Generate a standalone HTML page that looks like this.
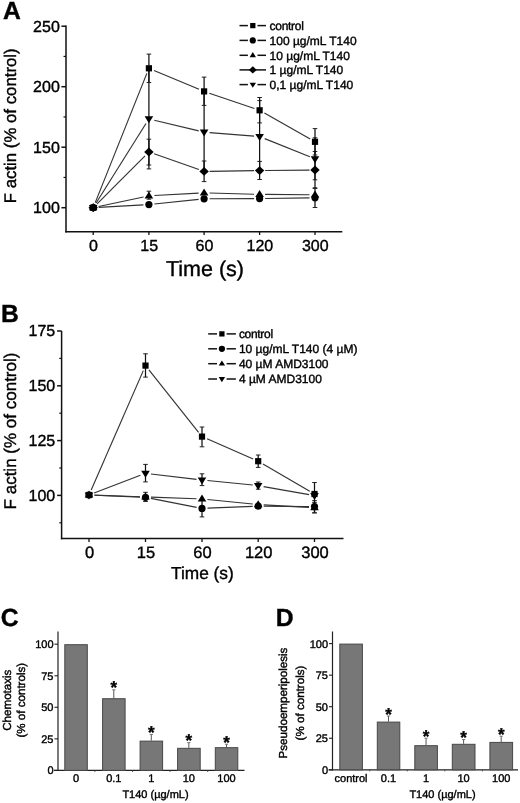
<!DOCTYPE html>
<html><head><meta charset="utf-8"><title>Figure</title>
<style>html,body{margin:0;padding:0;background:#fff;}svg{display:block;will-change:transform;}text{text-rendering:geometricPrecision;}</style></head>
<body>
<svg width="520" height="803" viewBox="0 0 520 803" font-family="Liberation Sans, sans-serif" fill="#000">
<style>text{stroke:#000;stroke-width:0.38px;}</style>
<rect width="520" height="803" fill="#fff"/>
<text x="2.9" y="18.8" font-size="24.7" text-anchor="start" font-weight="bold" >A</text>
<line x1="66.00" y1="25.50" x2="66.00" y2="232.50" stroke="#111" stroke-width="1.5" />
<line x1="65.30" y1="231.80" x2="342.30" y2="231.80" stroke="#111" stroke-width="1.5" />
<line x1="61.40" y1="207.70" x2="66.00" y2="207.70" stroke="#111" stroke-width="1.5" />
<text x="59.8" y="213.0" font-size="16" text-anchor="end" font-weight="normal" >100</text>
<line x1="61.40" y1="147.20" x2="66.00" y2="147.20" stroke="#111" stroke-width="1.5" />
<text x="59.8" y="152.5" font-size="16" text-anchor="end" font-weight="normal" >150</text>
<line x1="61.40" y1="86.70" x2="66.00" y2="86.70" stroke="#111" stroke-width="1.5" />
<text x="59.8" y="91.99999999999999" font-size="16" text-anchor="end" font-weight="normal" >200</text>
<line x1="61.40" y1="26.20" x2="66.00" y2="26.20" stroke="#111" stroke-width="1.5" />
<text x="59.8" y="31.49999999999999" font-size="16" text-anchor="end" font-weight="normal" >250</text>
<line x1="63.50" y1="177.45" x2="66.00" y2="177.45" stroke="#111" stroke-width="1.2" />
<line x1="63.50" y1="116.95" x2="66.00" y2="116.95" stroke="#111" stroke-width="1.2" />
<line x1="63.50" y1="56.45" x2="66.00" y2="56.45" stroke="#111" stroke-width="1.2" />
<line x1="93.20" y1="231.80" x2="93.20" y2="235.00" stroke="#111" stroke-width="1.3" />
<text x="93.5" y="250.8" font-size="16" text-anchor="middle" font-weight="normal" >0</text>
<line x1="148.90" y1="231.80" x2="148.90" y2="235.00" stroke="#111" stroke-width="1.3" />
<text x="149.20000000000002" y="250.8" font-size="16" text-anchor="middle" font-weight="normal" >15</text>
<line x1="204.10" y1="231.80" x2="204.10" y2="235.00" stroke="#111" stroke-width="1.3" />
<text x="204.4" y="250.8" font-size="16" text-anchor="middle" font-weight="normal" >60</text>
<line x1="259.60" y1="231.80" x2="259.60" y2="235.00" stroke="#111" stroke-width="1.3" />
<text x="259.90000000000003" y="250.8" font-size="16" text-anchor="middle" font-weight="normal" >120</text>
<line x1="315.00" y1="231.80" x2="315.00" y2="235.00" stroke="#111" stroke-width="1.3" />
<text x="315.3" y="250.8" font-size="16" text-anchor="middle" font-weight="normal" >300</text>
<text x="205" y="276" font-size="21.5" text-anchor="middle" font-weight="normal" >Time (s)</text>
<text x="16.3" y="125.8" font-size="16.8" text-anchor="middle" font-weight="normal" transform="rotate(-90 16.3 125.8)" >F actin (% of control)</text>
<line x1="98.69" y1="207.39" x2="143.41" y2="204.91" stroke="#333" stroke-width="1.15" />
<line x1="154.37" y1="204.03" x2="198.63" y2="199.37" stroke="#333" stroke-width="1.15" />
<line x1="209.60" y1="198.78" x2="254.10" y2="198.62" stroke="#333" stroke-width="1.15" />
<line x1="265.10" y1="198.52" x2="309.50" y2="197.88" stroke="#333" stroke-width="1.15" />
<line x1="98.58" y1="206.55" x2="143.52" y2="196.95" stroke="#333" stroke-width="1.15" />
<line x1="154.39" y1="195.50" x2="198.61" y2="193.10" stroke="#333" stroke-width="1.15" />
<line x1="209.60" y1="192.96" x2="254.10" y2="194.24" stroke="#333" stroke-width="1.15" />
<line x1="265.10" y1="194.44" x2="309.50" y2="194.76" stroke="#333" stroke-width="1.15" />
<line x1="97.09" y1="203.81" x2="145.01" y2="155.89" stroke="#333" stroke-width="1.15" />
<line x1="154.09" y1="153.82" x2="198.91" y2="169.58" stroke="#333" stroke-width="1.15" />
<line x1="209.60" y1="171.32" x2="254.10" y2="170.68" stroke="#333" stroke-width="1.15" />
<line x1="265.10" y1="170.54" x2="309.50" y2="170.06" stroke="#333" stroke-width="1.15" />
<line x1="96.12" y1="203.04" x2="145.98" y2="123.56" stroke="#333" stroke-width="1.15" />
<line x1="154.25" y1="120.19" x2="198.75" y2="130.91" stroke="#333" stroke-width="1.15" />
<line x1="209.58" y1="132.63" x2="254.12" y2="136.17" stroke="#333" stroke-width="1.15" />
<line x1="264.71" y1="138.65" x2="309.89" y2="156.75" stroke="#333" stroke-width="1.15" />
<line x1="95.24" y1="202.59" x2="146.86" y2="73.41" stroke="#333" stroke-width="1.15" />
<line x1="153.97" y1="70.42" x2="199.03" y2="89.28" stroke="#333" stroke-width="1.15" />
<line x1="209.31" y1="93.17" x2="254.39" y2="108.53" stroke="#333" stroke-width="1.15" />
<line x1="264.38" y1="113.02" x2="310.22" y2="139.08" stroke="#333" stroke-width="1.15" />
<line x1="315.00" y1="187.80" x2="315.00" y2="207.50" stroke="#111" stroke-width="1.25" />
<line x1="312.70" y1="187.80" x2="317.30" y2="187.80" stroke="#222" stroke-width="1" />
<line x1="312.70" y1="207.50" x2="317.30" y2="207.50" stroke="#222" stroke-width="1" />
<line x1="148.90" y1="191.20" x2="148.90" y2="199.20" stroke="#111" stroke-width="1.25" />
<line x1="146.60" y1="191.20" x2="151.20" y2="191.20" stroke="#222" stroke-width="1" />
<line x1="146.60" y1="199.20" x2="151.20" y2="199.20" stroke="#222" stroke-width="1" />
<line x1="148.90" y1="139.20" x2="148.90" y2="165.00" stroke="#111" stroke-width="1.25" />
<line x1="146.60" y1="139.20" x2="151.20" y2="139.20" stroke="#222" stroke-width="1" />
<line x1="146.60" y1="165.00" x2="151.20" y2="165.00" stroke="#222" stroke-width="1" />
<line x1="204.10" y1="161.00" x2="204.10" y2="181.60" stroke="#111" stroke-width="1.25" />
<line x1="201.80" y1="161.00" x2="206.40" y2="161.00" stroke="#222" stroke-width="1" />
<line x1="201.80" y1="181.60" x2="206.40" y2="181.60" stroke="#222" stroke-width="1" />
<line x1="259.60" y1="161.40" x2="259.60" y2="179.50" stroke="#111" stroke-width="1.25" />
<line x1="257.30" y1="161.40" x2="261.90" y2="161.40" stroke="#222" stroke-width="1" />
<line x1="257.30" y1="179.50" x2="261.90" y2="179.50" stroke="#222" stroke-width="1" />
<line x1="315.00" y1="151.50" x2="315.00" y2="188.50" stroke="#111" stroke-width="1.25" />
<line x1="312.70" y1="151.50" x2="317.30" y2="151.50" stroke="#222" stroke-width="1" />
<line x1="312.70" y1="188.50" x2="317.30" y2="188.50" stroke="#222" stroke-width="1" />
<line x1="148.90" y1="68.90" x2="148.90" y2="168.90" stroke="#111" stroke-width="1.25" />
<line x1="146.60" y1="68.90" x2="151.20" y2="68.90" stroke="#222" stroke-width="1" />
<line x1="146.60" y1="168.90" x2="151.20" y2="168.90" stroke="#222" stroke-width="1" />
<line x1="204.10" y1="93.20" x2="204.10" y2="171.20" stroke="#111" stroke-width="1.25" />
<line x1="201.80" y1="93.20" x2="206.40" y2="93.20" stroke="#222" stroke-width="1" />
<line x1="201.80" y1="171.20" x2="206.40" y2="171.20" stroke="#222" stroke-width="1" />
<line x1="259.60" y1="100.60" x2="259.60" y2="172.60" stroke="#111" stroke-width="1.25" />
<line x1="257.30" y1="100.60" x2="261.90" y2="100.60" stroke="#222" stroke-width="1" />
<line x1="257.30" y1="172.60" x2="261.90" y2="172.60" stroke="#222" stroke-width="1" />
<line x1="315.00" y1="137.80" x2="315.00" y2="179.80" stroke="#111" stroke-width="1.25" />
<line x1="312.70" y1="137.80" x2="317.30" y2="137.80" stroke="#222" stroke-width="1" />
<line x1="312.70" y1="179.80" x2="317.30" y2="179.80" stroke="#222" stroke-width="1" />
<line x1="148.90" y1="54.10" x2="148.90" y2="82.50" stroke="#111" stroke-width="1.25" />
<line x1="146.60" y1="54.10" x2="151.20" y2="54.10" stroke="#222" stroke-width="1" />
<line x1="146.60" y1="82.50" x2="151.20" y2="82.50" stroke="#222" stroke-width="1" />
<line x1="204.10" y1="77.10" x2="204.10" y2="105.40" stroke="#111" stroke-width="1.25" />
<line x1="201.80" y1="77.10" x2="206.40" y2="77.10" stroke="#222" stroke-width="1" />
<line x1="201.80" y1="105.40" x2="206.40" y2="105.40" stroke="#222" stroke-width="1" />
<line x1="259.60" y1="97.50" x2="259.60" y2="122.90" stroke="#111" stroke-width="1.25" />
<line x1="257.30" y1="97.50" x2="261.90" y2="97.50" stroke="#222" stroke-width="1" />
<line x1="257.30" y1="122.90" x2="261.90" y2="122.90" stroke="#222" stroke-width="1" />
<line x1="315.00" y1="128.60" x2="315.00" y2="155.00" stroke="#111" stroke-width="1.25" />
<line x1="312.70" y1="128.60" x2="317.30" y2="128.60" stroke="#222" stroke-width="1" />
<line x1="312.70" y1="155.00" x2="317.30" y2="155.00" stroke="#222" stroke-width="1" />
<circle cx="93.20" cy="207.70" r="3.60" fill="#000"/>
<circle cx="148.90" cy="204.60" r="3.60" fill="#000"/>
<circle cx="204.10" cy="198.80" r="3.60" fill="#000"/>
<circle cx="259.60" cy="198.60" r="3.60" fill="#000"/>
<circle cx="315.00" cy="197.80" r="3.60" fill="#000"/>
<polygon points="88.90,210.30 97.50,210.30 93.20,203.30" fill="#000"/>
<polygon points="144.60,198.40 153.20,198.40 148.90,191.40" fill="#000"/>
<polygon points="199.80,195.40 208.40,195.40 204.10,188.40" fill="#000"/>
<polygon points="255.30,197.00 263.90,197.00 259.60,190.00" fill="#000"/>
<polygon points="310.70,197.40 319.30,197.40 315.00,190.40" fill="#000"/>
<polygon points="88.50,207.70 93.20,203.30 97.90,207.70 93.20,212.10" fill="#000"/>
<polygon points="144.20,152.00 148.90,147.60 153.60,152.00 148.90,156.40" fill="#000"/>
<polygon points="199.40,171.40 204.10,167.00 208.80,171.40 204.10,175.80" fill="#000"/>
<polygon points="254.90,170.60 259.60,166.20 264.30,170.60 259.60,175.00" fill="#000"/>
<polygon points="310.30,170.00 315.00,165.60 319.70,170.00 315.00,174.40" fill="#000"/>
<polygon points="88.90,205.10 97.50,205.10 93.20,212.10" fill="#000"/>
<polygon points="144.60,116.30 153.20,116.30 148.90,123.30" fill="#000"/>
<polygon points="199.80,129.60 208.40,129.60 204.10,136.60" fill="#000"/>
<polygon points="255.30,134.00 263.90,134.00 259.60,141.00" fill="#000"/>
<polygon points="310.70,156.20 319.30,156.20 315.00,163.20" fill="#000"/>
<rect x="90.10" y="204.60" width="6.20" height="6.20" fill="#000"/>
<rect x="145.80" y="65.20" width="6.20" height="6.20" fill="#000"/>
<rect x="201.00" y="88.30" width="6.20" height="6.20" fill="#000"/>
<rect x="256.50" y="107.20" width="6.20" height="6.20" fill="#000"/>
<rect x="311.90" y="138.70" width="6.20" height="6.20" fill="#000"/>
<line x1="239.50" y1="25.60" x2="247.90" y2="25.60" stroke="#111" stroke-width="1.5" />
<line x1="257.50" y1="25.60" x2="266.00" y2="25.60" stroke="#111" stroke-width="1.5" />
<rect x="250.17" y="22.97" width="5.27" height="5.27" fill="#000"/>
<text x="269.6" y="29.8" font-size="12" text-anchor="start" font-weight="normal" letter-spacing="-0.3">control</text>
<line x1="239.50" y1="40.40" x2="247.90" y2="40.40" stroke="#111" stroke-width="1.5" />
<line x1="257.50" y1="40.40" x2="266.00" y2="40.40" stroke="#111" stroke-width="1.5" />
<circle cx="252.80" cy="40.40" r="3.13" fill="#000"/>
<text x="269.6" y="44.6" font-size="12" text-anchor="start" font-weight="normal" >100 µg/mL T140</text>
<line x1="239.50" y1="55.30" x2="247.90" y2="55.30" stroke="#111" stroke-width="1.5" />
<line x1="257.50" y1="55.30" x2="266.00" y2="55.30" stroke="#111" stroke-width="1.5" />
<polygon points="249.62,57.22 255.98,57.22 252.80,52.04" fill="#000"/>
<text x="269.6" y="59.5" font-size="12" text-anchor="start" font-weight="normal" >10 µg/mL T140</text>
<line x1="239.50" y1="69.90" x2="266.00" y2="69.90" stroke="#111" stroke-width="1.5" />
<polygon points="248.90,69.90 252.80,66.25 256.70,69.90 252.80,73.55" fill="#000"/>
<text x="269.6" y="74.10000000000001" font-size="12" text-anchor="start" font-weight="normal" >1 µg/mL T140</text>
<line x1="239.50" y1="84.60" x2="247.90" y2="84.60" stroke="#111" stroke-width="1.5" />
<line x1="257.50" y1="84.60" x2="266.00" y2="84.60" stroke="#111" stroke-width="1.5" />
<polygon points="249.62,82.68 255.98,82.68 252.80,87.86" fill="#000"/>
<text x="269.6" y="88.8" font-size="12" text-anchor="start" font-weight="normal" >0,1 µg/mL T140</text>
<text x="1.1" y="321.9" font-size="24.7" text-anchor="start" font-weight="bold" >B</text>
<line x1="61.60" y1="331.00" x2="61.60" y2="539.30" stroke="#111" stroke-width="1.5" />
<line x1="60.90" y1="538.60" x2="343.50" y2="538.60" stroke="#111" stroke-width="1.5" />
<line x1="57.10" y1="495.40" x2="61.60" y2="495.40" stroke="#111" stroke-width="1.5" />
<text x="55.2" y="500.59999999999997" font-size="16" text-anchor="end" font-weight="normal" >100</text>
<line x1="57.10" y1="440.60" x2="61.60" y2="440.60" stroke="#111" stroke-width="1.5" />
<text x="55.2" y="445.79999999999995" font-size="16" text-anchor="end" font-weight="normal" >125</text>
<line x1="57.10" y1="385.80" x2="61.60" y2="385.80" stroke="#111" stroke-width="1.5" />
<text x="55.2" y="390.99999999999994" font-size="16" text-anchor="end" font-weight="normal" >150</text>
<line x1="57.10" y1="331.00" x2="61.60" y2="331.00" stroke="#111" stroke-width="1.5" />
<text x="55.2" y="336.2" font-size="16" text-anchor="end" font-weight="normal" >175</text>
<line x1="59.30" y1="522.80" x2="61.60" y2="522.80" stroke="#111" stroke-width="1.2" />
<line x1="59.30" y1="468.00" x2="61.60" y2="468.00" stroke="#111" stroke-width="1.2" />
<line x1="59.30" y1="413.20" x2="61.60" y2="413.20" stroke="#111" stroke-width="1.2" />
<line x1="59.30" y1="358.40" x2="61.60" y2="358.40" stroke="#111" stroke-width="1.2" />
<line x1="89.00" y1="538.60" x2="89.00" y2="542.00" stroke="#111" stroke-width="1.3" />
<text x="89.5" y="558.3" font-size="16.5" text-anchor="middle" font-weight="normal" >0</text>
<line x1="145.50" y1="538.60" x2="145.50" y2="542.00" stroke="#111" stroke-width="1.3" />
<text x="146.0" y="558.3" font-size="16.5" text-anchor="middle" font-weight="normal" >15</text>
<line x1="202.00" y1="538.60" x2="202.00" y2="542.00" stroke="#111" stroke-width="1.3" />
<text x="202.5" y="558.3" font-size="16.5" text-anchor="middle" font-weight="normal" >60</text>
<line x1="258.20" y1="538.60" x2="258.20" y2="542.00" stroke="#111" stroke-width="1.3" />
<text x="258.7" y="558.3" font-size="16.5" text-anchor="middle" font-weight="normal" >120</text>
<line x1="314.50" y1="538.60" x2="314.50" y2="542.00" stroke="#111" stroke-width="1.3" />
<text x="315.0" y="558.3" font-size="16.5" text-anchor="middle" font-weight="normal" >300</text>
<text x="202.4" y="578.6" font-size="17.3" text-anchor="middle" font-weight="normal" >Time (s)</text>
<text x="16.1" y="431" font-size="17" text-anchor="middle" font-weight="normal" transform="rotate(-90 16.1 431)" >F actin (% of control)</text>
<line x1="94.50" y1="495.22" x2="140.00" y2="497.08" stroke="#333" stroke-width="1.15" />
<line x1="150.90" y1="498.36" x2="196.60" y2="507.34" stroke="#333" stroke-width="1.15" />
<line x1="207.50" y1="508.18" x2="252.70" y2="506.42" stroke="#333" stroke-width="1.15" />
<line x1="263.70" y1="506.24" x2="309.00" y2="506.56" stroke="#333" stroke-width="1.15" />
<line x1="94.50" y1="495.18" x2="140.00" y2="496.72" stroke="#333" stroke-width="1.15" />
<line x1="151.00" y1="497.09" x2="196.50" y2="498.71" stroke="#333" stroke-width="1.15" />
<line x1="207.47" y1="499.45" x2="252.73" y2="504.05" stroke="#333" stroke-width="1.15" />
<line x1="263.69" y1="504.89" x2="309.01" y2="507.31" stroke="#333" stroke-width="1.15" />
<line x1="94.13" y1="493.03" x2="140.37" y2="475.27" stroke="#333" stroke-width="1.15" />
<line x1="150.96" y1="473.95" x2="196.54" y2="479.35" stroke="#333" stroke-width="1.15" />
<line x1="207.47" y1="480.55" x2="252.73" y2="485.05" stroke="#333" stroke-width="1.15" />
<line x1="263.62" y1="486.56" x2="309.08" y2="494.64" stroke="#333" stroke-width="1.15" />
<line x1="91.20" y1="489.96" x2="143.30" y2="370.64" stroke="#333" stroke-width="1.15" />
<line x1="148.92" y1="369.90" x2="198.58" y2="432.30" stroke="#333" stroke-width="1.15" />
<line x1="207.04" y1="438.81" x2="253.16" y2="458.99" stroke="#333" stroke-width="1.15" />
<line x1="262.95" y1="463.97" x2="309.75" y2="491.23" stroke="#333" stroke-width="1.15" />
<line x1="202.00" y1="499.90" x2="202.00" y2="516.90" stroke="#111" stroke-width="1.25" />
<line x1="199.70" y1="499.90" x2="204.30" y2="499.90" stroke="#222" stroke-width="1" />
<line x1="199.70" y1="516.90" x2="204.30" y2="516.90" stroke="#222" stroke-width="1" />
<line x1="314.50" y1="500.60" x2="314.50" y2="512.90" stroke="#111" stroke-width="1.25" />
<line x1="312.20" y1="500.60" x2="316.80" y2="500.60" stroke="#222" stroke-width="1" />
<line x1="312.20" y1="512.90" x2="316.80" y2="512.90" stroke="#222" stroke-width="1" />
<line x1="145.50" y1="492.30" x2="145.50" y2="501.50" stroke="#111" stroke-width="1.25" />
<line x1="143.20" y1="492.30" x2="147.80" y2="492.30" stroke="#222" stroke-width="1" />
<line x1="143.20" y1="501.50" x2="147.80" y2="501.50" stroke="#222" stroke-width="1" />
<line x1="314.50" y1="502.40" x2="314.50" y2="512.80" stroke="#111" stroke-width="1.25" />
<line x1="312.20" y1="502.40" x2="316.80" y2="502.40" stroke="#222" stroke-width="1" />
<line x1="312.20" y1="512.80" x2="316.80" y2="512.80" stroke="#222" stroke-width="1" />
<line x1="145.50" y1="464.40" x2="145.50" y2="481.90" stroke="#111" stroke-width="1.25" />
<line x1="143.20" y1="464.40" x2="147.80" y2="464.40" stroke="#222" stroke-width="1" />
<line x1="143.20" y1="481.90" x2="147.80" y2="481.90" stroke="#222" stroke-width="1" />
<line x1="202.00" y1="473.80" x2="202.00" y2="485.60" stroke="#111" stroke-width="1.25" />
<line x1="199.70" y1="473.80" x2="204.30" y2="473.80" stroke="#222" stroke-width="1" />
<line x1="199.70" y1="485.60" x2="204.30" y2="485.60" stroke="#222" stroke-width="1" />
<line x1="258.20" y1="482.00" x2="258.20" y2="489.20" stroke="#111" stroke-width="1.25" />
<line x1="255.90" y1="482.00" x2="260.50" y2="482.00" stroke="#222" stroke-width="1" />
<line x1="255.90" y1="489.20" x2="260.50" y2="489.20" stroke="#222" stroke-width="1" />
<line x1="145.50" y1="353.80" x2="145.50" y2="377.10" stroke="#111" stroke-width="1.25" />
<line x1="143.20" y1="353.80" x2="147.80" y2="353.80" stroke="#222" stroke-width="1" />
<line x1="143.20" y1="377.10" x2="147.80" y2="377.10" stroke="#222" stroke-width="1" />
<line x1="202.00" y1="427.00" x2="202.00" y2="446.80" stroke="#111" stroke-width="1.25" />
<line x1="199.70" y1="427.00" x2="204.30" y2="427.00" stroke="#222" stroke-width="1" />
<line x1="199.70" y1="446.80" x2="204.30" y2="446.80" stroke="#222" stroke-width="1" />
<line x1="258.20" y1="455.00" x2="258.20" y2="467.40" stroke="#111" stroke-width="1.25" />
<line x1="255.90" y1="455.00" x2="260.50" y2="455.00" stroke="#222" stroke-width="1" />
<line x1="255.90" y1="467.40" x2="260.50" y2="467.40" stroke="#222" stroke-width="1" />
<line x1="314.50" y1="482.50" x2="314.50" y2="505.50" stroke="#111" stroke-width="1.25" />
<line x1="312.20" y1="482.50" x2="316.80" y2="482.50" stroke="#222" stroke-width="1" />
<line x1="312.20" y1="505.50" x2="316.80" y2="505.50" stroke="#222" stroke-width="1" />
<circle cx="89.00" cy="495.00" r="3.60" fill="#000"/>
<circle cx="145.50" cy="497.30" r="3.60" fill="#000"/>
<circle cx="202.00" cy="508.40" r="3.60" fill="#000"/>
<circle cx="258.20" cy="506.20" r="3.60" fill="#000"/>
<circle cx="314.50" cy="506.60" r="3.60" fill="#000"/>
<polygon points="84.70,497.60 93.30,497.60 89.00,490.60" fill="#000"/>
<polygon points="141.20,499.50 149.80,499.50 145.50,492.50" fill="#000"/>
<polygon points="197.70,501.50 206.30,501.50 202.00,494.50" fill="#000"/>
<polygon points="253.90,507.20 262.50,507.20 258.20,500.20" fill="#000"/>
<polygon points="310.20,510.20 318.80,510.20 314.50,503.20" fill="#000"/>
<polygon points="84.70,492.40 93.30,492.40 89.00,499.40" fill="#000"/>
<polygon points="141.20,470.70 149.80,470.70 145.50,477.70" fill="#000"/>
<polygon points="197.70,477.40 206.30,477.40 202.00,484.40" fill="#000"/>
<polygon points="253.90,483.00 262.50,483.00 258.20,490.00" fill="#000"/>
<polygon points="310.20,493.00 318.80,493.00 314.50,500.00" fill="#000"/>
<rect x="85.90" y="491.90" width="6.20" height="6.20" fill="#000"/>
<rect x="142.40" y="362.50" width="6.20" height="6.20" fill="#000"/>
<rect x="198.90" y="433.50" width="6.20" height="6.20" fill="#000"/>
<rect x="255.10" y="458.10" width="6.20" height="6.20" fill="#000"/>
<rect x="311.40" y="490.90" width="6.20" height="6.20" fill="#000"/>
<line x1="208.20" y1="333.90" x2="217.00" y2="333.90" stroke="#111" stroke-width="1.5" />
<line x1="226.60" y1="333.90" x2="235.90" y2="333.90" stroke="#111" stroke-width="1.5" />
<rect x="219.27" y="331.26" width="5.27" height="5.27" fill="#000"/>
<text x="238.9" y="338.09999999999997" font-size="12" text-anchor="start" font-weight="normal" letter-spacing="-0.3">control</text>
<line x1="208.20" y1="348.80" x2="217.00" y2="348.80" stroke="#111" stroke-width="1.5" />
<line x1="226.60" y1="348.80" x2="235.90" y2="348.80" stroke="#111" stroke-width="1.5" />
<circle cx="221.90" cy="348.80" r="3.13" fill="#000"/>
<text x="238.9" y="353.0" font-size="12" text-anchor="start" font-weight="normal" >10 µg/mL T140 (4 µM)</text>
<line x1="208.20" y1="363.70" x2="217.00" y2="363.70" stroke="#111" stroke-width="1.5" />
<line x1="226.60" y1="363.70" x2="235.90" y2="363.70" stroke="#111" stroke-width="1.5" />
<polygon points="218.72,365.62 225.08,365.62 221.90,360.44" fill="#000"/>
<text x="238.9" y="367.9" font-size="12" text-anchor="start" font-weight="normal" >40 µM AMD3100</text>
<line x1="208.20" y1="379.00" x2="217.00" y2="379.00" stroke="#111" stroke-width="1.5" />
<line x1="226.60" y1="379.00" x2="235.90" y2="379.00" stroke="#111" stroke-width="1.5" />
<polygon points="218.72,377.08 225.08,377.08 221.90,382.26" fill="#000"/>
<text x="238.9" y="383.2" font-size="12" text-anchor="start" font-weight="normal" >4 µM AMD3100</text>
<text x="0.8" y="626.2" font-size="24.7" text-anchor="start" font-weight="bold" >C</text>
<line x1="58.00" y1="631.50" x2="58.00" y2="771.00" stroke="#222" stroke-width="1.2" />
<line x1="54.00" y1="770.40" x2="244.50" y2="770.40" stroke="#222" stroke-width="1.2" />
<line x1="54.50" y1="770.40" x2="58.00" y2="770.40" stroke="#222" stroke-width="1.1" />
<text x="53.5" y="774.4" font-size="11" text-anchor="end" font-weight="normal" >0</text>
<line x1="54.50" y1="738.85" x2="58.00" y2="738.85" stroke="#222" stroke-width="1.1" />
<text x="53.5" y="742.85" font-size="11" text-anchor="end" font-weight="normal" >25</text>
<line x1="54.50" y1="707.30" x2="58.00" y2="707.30" stroke="#222" stroke-width="1.1" />
<text x="53.5" y="711.3" font-size="11" text-anchor="end" font-weight="normal" >50</text>
<line x1="54.50" y1="675.75" x2="58.00" y2="675.75" stroke="#222" stroke-width="1.1" />
<text x="53.5" y="679.75" font-size="11" text-anchor="end" font-weight="normal" >75</text>
<line x1="54.50" y1="644.20" x2="58.00" y2="644.20" stroke="#222" stroke-width="1.1" />
<text x="53.5" y="648.1999999999999" font-size="11" text-anchor="end" font-weight="normal" >100</text>
<rect x="64.80" y="644.70" width="22.50" height="125.70" fill="#777777" stroke="#474747" stroke-width="1"/>
<text x="76.0" y="781.8" font-size="11" text-anchor="middle" font-weight="normal" >0</text>
<line x1="113.80" y1="689.80" x2="113.80" y2="698.21" stroke="#555" stroke-width="1" />
<line x1="112.20" y1="689.80" x2="115.40" y2="689.80" stroke="#777" stroke-width="1" />
<rect x="102.60" y="698.71" width="22.50" height="71.69" fill="#777777" stroke="#474747" stroke-width="1"/>
<text x="113.8" y="693.0" font-size="17" text-anchor="middle" font-weight="bold" >*</text>
<text x="113.8" y="781.8" font-size="11" text-anchor="middle" font-weight="normal" >0.1</text>
<line x1="151.30" y1="734.40" x2="151.30" y2="740.62" stroke="#555" stroke-width="1" />
<line x1="149.70" y1="734.40" x2="152.90" y2="734.40" stroke="#777" stroke-width="1" />
<rect x="140.10" y="741.12" width="22.50" height="29.28" fill="#777777" stroke="#474747" stroke-width="1"/>
<text x="151.3" y="737.9" font-size="17" text-anchor="middle" font-weight="bold" >*</text>
<text x="151.3" y="781.8" font-size="11" text-anchor="middle" font-weight="normal" >1</text>
<line x1="188.85" y1="742.60" x2="188.85" y2="747.81" stroke="#555" stroke-width="1" />
<line x1="187.25" y1="742.60" x2="190.45" y2="742.60" stroke="#777" stroke-width="1" />
<rect x="177.60" y="748.31" width="22.60" height="22.09" fill="#777777" stroke="#474747" stroke-width="1"/>
<text x="188.85000000000002" y="746.3" font-size="17" text-anchor="middle" font-weight="bold" >*</text>
<text x="188.85000000000002" y="781.8" font-size="11" text-anchor="middle" font-weight="normal" >10</text>
<line x1="226.50" y1="744.20" x2="226.50" y2="747.18" stroke="#555" stroke-width="1" />
<line x1="224.90" y1="744.20" x2="228.10" y2="744.20" stroke="#777" stroke-width="1" />
<rect x="215.30" y="747.68" width="22.50" height="22.72" fill="#777777" stroke="#474747" stroke-width="1"/>
<text x="226.5" y="747.9" font-size="17" text-anchor="middle" font-weight="bold" >*</text>
<text x="226.5" y="781.8" font-size="11" text-anchor="middle" font-weight="normal" >100</text>
<line x1="94.90" y1="770.40" x2="94.90" y2="771.90" stroke="#444" stroke-width="1" />
<line x1="132.55" y1="770.40" x2="132.55" y2="771.90" stroke="#444" stroke-width="1" />
<line x1="170.05" y1="770.40" x2="170.05" y2="771.90" stroke="#444" stroke-width="1" />
<line x1="207.70" y1="770.40" x2="207.70" y2="771.90" stroke="#444" stroke-width="1" />
<text x="155.5" y="798" font-size="11" text-anchor="middle" font-weight="normal" >T140 (µg/mL)</text>
<text x="10.6" y="700.2" font-size="11.6" text-anchor="middle" font-weight="normal" transform="rotate(-90 10.6 700.2)" >Chemotaxis</text>
<text x="25" y="700.2" font-size="11.6" text-anchor="middle" font-weight="normal" transform="rotate(-90 25 700.2)" >(% of controls)</text>
<text x="275.7" y="626.2" font-size="24.7" text-anchor="start" font-weight="bold" >D</text>
<line x1="332.50" y1="631.50" x2="332.50" y2="770.40" stroke="#222" stroke-width="1.2" />
<line x1="328.50" y1="769.80" x2="518.00" y2="769.80" stroke="#222" stroke-width="1.2" />
<line x1="329.00" y1="769.80" x2="332.50" y2="769.80" stroke="#222" stroke-width="1.1" />
<text x="328.0" y="773.8" font-size="11" text-anchor="end" font-weight="normal" >0</text>
<line x1="329.00" y1="738.25" x2="332.50" y2="738.25" stroke="#222" stroke-width="1.1" />
<text x="328.0" y="742.25" font-size="11" text-anchor="end" font-weight="normal" >25</text>
<line x1="329.00" y1="706.70" x2="332.50" y2="706.70" stroke="#222" stroke-width="1.1" />
<text x="328.0" y="710.6999999999999" font-size="11" text-anchor="end" font-weight="normal" >50</text>
<line x1="329.00" y1="675.15" x2="332.50" y2="675.15" stroke="#222" stroke-width="1.1" />
<text x="328.0" y="679.15" font-size="11" text-anchor="end" font-weight="normal" >75</text>
<line x1="329.00" y1="643.60" x2="332.50" y2="643.60" stroke="#222" stroke-width="1.1" />
<text x="328.0" y="647.5999999999999" font-size="11" text-anchor="end" font-weight="normal" >100</text>
<rect x="339.80" y="644.10" width="22.60" height="125.70" fill="#777777" stroke="#474747" stroke-width="1"/>
<text x="351.05" y="781.8" font-size="11" text-anchor="middle" font-weight="normal" >control</text>
<line x1="388.50" y1="716.00" x2="388.50" y2="721.59" stroke="#555" stroke-width="1" />
<line x1="386.90" y1="716.00" x2="390.10" y2="716.00" stroke="#777" stroke-width="1" />
<rect x="377.30" y="722.09" width="22.50" height="47.71" fill="#777777" stroke="#474747" stroke-width="1"/>
<text x="388.5" y="720.0" font-size="17" text-anchor="middle" font-weight="bold" >*</text>
<text x="388.5" y="781.8" font-size="11" text-anchor="middle" font-weight="normal" >0.1</text>
<line x1="426.05" y1="738.20" x2="426.05" y2="745.19" stroke="#555" stroke-width="1" />
<line x1="424.45" y1="738.20" x2="427.65" y2="738.20" stroke="#777" stroke-width="1" />
<rect x="414.80" y="745.69" width="22.60" height="24.11" fill="#777777" stroke="#474747" stroke-width="1"/>
<text x="426.05" y="741.5999999999999" font-size="17" text-anchor="middle" font-weight="bold" >*</text>
<text x="426.05" y="781.8" font-size="11" text-anchor="middle" font-weight="normal" >1</text>
<line x1="463.60" y1="739.50" x2="463.60" y2="743.80" stroke="#555" stroke-width="1" />
<line x1="462.00" y1="739.50" x2="465.20" y2="739.50" stroke="#777" stroke-width="1" />
<rect x="452.30" y="744.30" width="22.70" height="25.50" fill="#777777" stroke="#474747" stroke-width="1"/>
<text x="463.6" y="742.5999999999999" font-size="17" text-anchor="middle" font-weight="bold" >*</text>
<text x="463.6" y="781.8" font-size="11" text-anchor="middle" font-weight="normal" >10</text>
<line x1="501.20" y1="736.20" x2="501.20" y2="741.91" stroke="#555" stroke-width="1" />
<line x1="499.60" y1="736.20" x2="502.80" y2="736.20" stroke="#777" stroke-width="1" />
<rect x="489.90" y="742.41" width="22.70" height="27.39" fill="#777777" stroke="#474747" stroke-width="1"/>
<text x="501.2" y="739.5999999999999" font-size="17" text-anchor="middle" font-weight="bold" >*</text>
<text x="501.2" y="781.8" font-size="11" text-anchor="middle" font-weight="normal" >100</text>
<line x1="369.80" y1="769.80" x2="369.80" y2="771.30" stroke="#444" stroke-width="1" />
<line x1="407.25" y1="769.80" x2="407.25" y2="771.30" stroke="#444" stroke-width="1" />
<line x1="444.80" y1="769.80" x2="444.80" y2="771.30" stroke="#444" stroke-width="1" />
<line x1="482.40" y1="769.80" x2="482.40" y2="771.30" stroke="#444" stroke-width="1" />
<text x="442.5" y="798" font-size="11" text-anchor="middle" font-weight="normal" >T140 (µg/mL)</text>
<text x="287.2" y="703" font-size="11.6" text-anchor="middle" font-weight="normal" transform="rotate(-90 287.2 703)" >Pseudoemperipolesis</text>
<text x="303.8" y="703" font-size="11.6" text-anchor="middle" font-weight="normal" transform="rotate(-90 303.8 703)" >(% of controls)</text>
</svg>
</body></html>
